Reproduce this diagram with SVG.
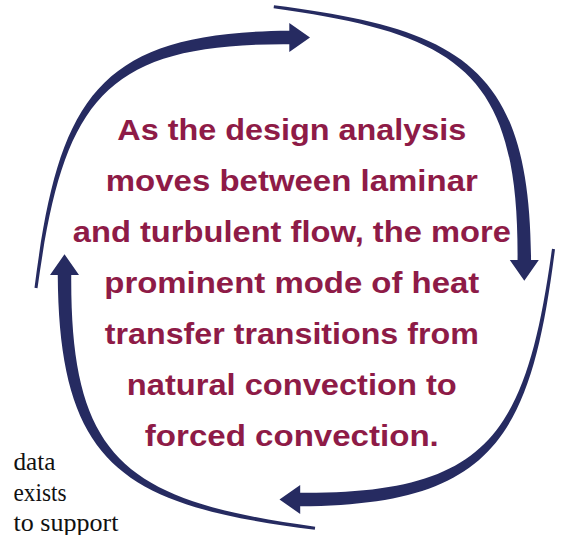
<svg xmlns="http://www.w3.org/2000/svg" xmlns:xlink="http://www.w3.org/1999/xlink" width="566" height="535" viewBox="0 0 566 535">
  <style>
    .arrow { fill: #262b61; stroke: none; }
    .main { font-family: "Liberation Sans", Arial, sans-serif; font-weight: bold; font-size: 30px; fill: #8e1b47; text-anchor: middle; }
    .note { font-family: "Liberation Serif", "Times New Roman", serif; font-size: 24.5px; fill: #111111; }
  </style>
  <defs>
    <path id="cycleArrow" class="arrow" d="M -275.5 250.3 C -251.5 61.3 -213.8 -5.5 -20.7 -6.75 L -20.7 -14.5 L 0 0 L -20.7 14.5 L -20.7 6.75 C -207.6 5.5 -246.7 63.1 -272.5 250.7 Z"/>
  </defs>
  <rect width="566" height="535" fill="#ffffff"/>
  <g id="connectors">
    <use xlink:href="#cycleArrow" href="#cycleArrow" transform="translate(310,37.5)"/>
    <use xlink:href="#cycleArrow" href="#cycleArrow" transform="translate(524.3,280.7) rotate(90)"/>
    <use xlink:href="#cycleArrow" href="#cycleArrow" transform="translate(279.5,499.5) rotate(180)"/>
    <use xlink:href="#cycleArrow" href="#cycleArrow" transform="translate(64.5,254.3) rotate(270)"/>
  </g>
  <g id="center-text">
    <text class="main" x="291.8" y="139.5" textLength="349" lengthAdjust="spacingAndGlyphs">As the design analysis</text>
    <text class="main" x="291.8" y="190.6" textLength="372" lengthAdjust="spacingAndGlyphs">moves between laminar</text>
    <text class="main" x="291.8" y="241.7" textLength="438" lengthAdjust="spacingAndGlyphs">and turbulent flow, the more</text>
    <text class="main" x="291.8" y="292.8" textLength="375" lengthAdjust="spacingAndGlyphs">prominent mode of heat</text>
    <text class="main" x="291.8" y="343.9" textLength="374" lengthAdjust="spacingAndGlyphs">transfer transitions from</text>
    <text class="main" x="291.8" y="395" textLength="330" lengthAdjust="spacingAndGlyphs">natural convection to</text>
    <text class="main" x="291.8" y="446.1" textLength="294" lengthAdjust="spacingAndGlyphs">forced convection.</text>
  </g>
  <g id="caption">
    <text class="note" x="13.5" y="470" textLength="42" lengthAdjust="spacingAndGlyphs">data</text>
    <text class="note" x="13.5" y="501" textLength="53" lengthAdjust="spacingAndGlyphs">exists</text>
    <text class="note" x="13.5" y="531" textLength="105" lengthAdjust="spacingAndGlyphs">to support</text>
  </g>
</svg>
